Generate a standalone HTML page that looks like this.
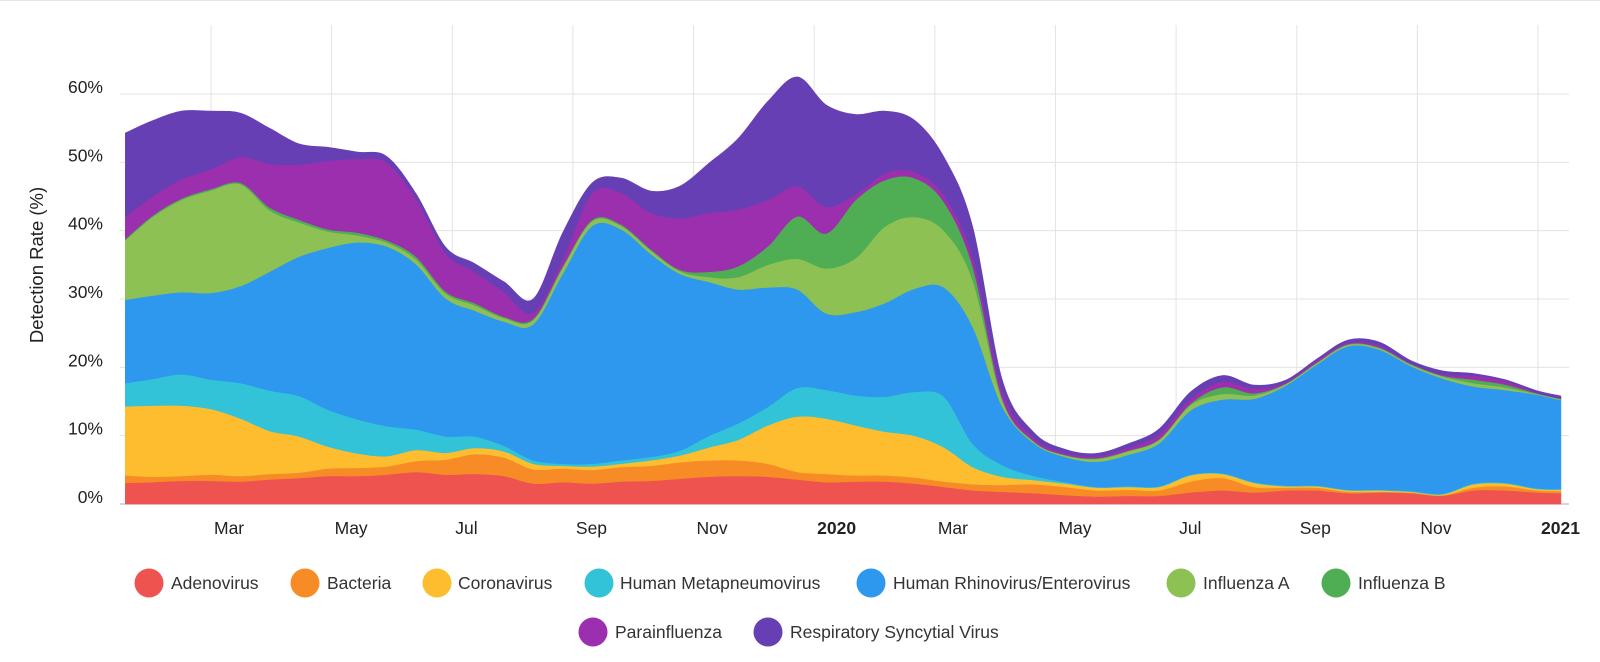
<!DOCTYPE html>
<html><head><meta charset="utf-8"><style>
body{margin:0;background:#fff;width:1600px;height:657px;overflow:hidden;font-family:"Liberation Sans",sans-serif}
svg text{font-family:"Liberation Sans",sans-serif}
</style></head><body>
<svg id="chart" width="1600" height="657" xmlns="http://www.w3.org/2000/svg">
<line x1="0" y1="0.5" x2="1600" y2="0.5" stroke="#e6e6e6"/>
<g id="grid"></g>
<g id="areas"></g>
<g id="axes"></g>
<text transform="translate(43,265) rotate(-90)" text-anchor="middle" font-size="18.5" fill="#222">Detection Rate (%)</text>
<g id="legend"></g>
</svg>
<script>
const seriesNames=["Adenovirus","Bacteria","Coronavirus","Human Metapneumovirus","Human Rhinovirus/Enterovirus","Influenza A","Influenza B","Parainfluenza","Respiratory Syncytial Virus"];
const seriesColors=["#ef5350","#f78c26","#fdbd2f","#33c3d8","#2d98ee","#8dc153","#4fae54","#9c2fad","#673fb4"];
// sample dates, in months since 1 Jan 2019
const sampleMonths=[0.58,1.03,1.51,2.00,2.49,2.97,3.46,3.94,4.43,4.91,5.40,5.89,6.37,6.86,7.34,7.83,8.32,8.80,9.29,9.77,10.26,10.74,11.23,11.72,12.20,12.69,13.17,13.66,14.15,14.63,15.12,15.64,16.16,16.68,17.20,17.72,18.24,18.77,19.29,19.81,20.33,20.85,21.37,21.89,22.41,22.93,23.45,23.98,24.38];
const adenovirus=[3.1,3.2,3.4,3.4,3.3,3.6,3.8,4.1,4.1,4.3,4.7,4.3,4.4,4.1,3.0,3.2,3.0,3.3,3.4,3.7,4.0,4.1,4.0,3.6,3.2,3.3,3.3,3.0,2.5,2.0,1.8,1.6,1.3,1.1,1.2,1.2,1.7,2.0,1.7,2.0,2.0,1.6,1.7,1.6,1.2,2.0,2.0,1.7,1.6];
const bacteria=[1.1,0.8,0.7,0.9,0.8,0.8,0.8,1.1,1.2,1.2,1.6,2.2,2.9,2.7,2.1,2.0,2.0,2.1,2.2,2.4,2.4,2.3,1.9,1.1,1.2,0.9,0.9,0.9,0.8,0.9,1.0,1.3,1.2,0.9,0.9,0.8,1.6,1.8,0.8,0.4,0.4,0.2,0.1,0.1,0.1,0.4,0.6,0.3,0.3];
const coronavirus=[10.1,10.4,10.3,9.6,8.4,6.3,5.3,3.2,2.1,1.5,1.6,1.0,0.9,0.9,0.8,0.4,0.5,0.5,0.8,1.0,1.9,3.0,5.6,8.1,8.1,7.3,6.4,6.1,5.0,2.5,1.2,0.6,0.5,0.4,0.4,0.5,0.9,0.6,0.6,0.2,0.2,0.2,0.2,0.1,0.1,0.5,0.4,0.2,0.2];
const metapneumovirus=[3.4,3.9,4.6,4.3,5.2,5.9,5.9,5.4,5.0,4.4,3.0,2.4,1.7,0.8,0.5,0.3,0.4,0.5,0.5,0.7,1.7,2.4,2.7,4.2,4.2,4.4,5.1,6.4,7.4,3.4,1.7,0.6,0.2,0.1,0.1,0.1,0.1,0.1,0.1,0.1,0.1,0.1,0.1,0.1,0.1,0.1,0.1,0.1,0.1];
const rhinovirus=[12.2,12.2,12.0,12.7,14.2,17.4,20.4,23.7,25.9,26.3,24.2,20.2,18.4,18.2,19.9,27.8,34.8,33.8,29.7,25.9,22.5,19.6,17.5,14.4,11.2,12.2,13.7,15.1,16.0,17.1,8.5,4.8,3.7,3.7,4.6,6.3,9.4,10.8,12.2,14.6,17.7,21.0,20.5,18.3,16.9,14.2,13.6,13.7,13.0];
const influenzaA=[8.7,11.5,13.5,15.0,14.9,9.0,5.0,2.4,1.0,0.6,0.7,0.7,0.8,0.5,0.6,0.9,0.7,0.5,0.5,0.4,0.7,1.8,3.3,4.5,6.6,7.9,11.2,10.5,8.3,6.8,0.9,0.2,0.2,0.4,0.5,0.5,0.8,0.8,0.5,0.2,0.2,0.2,0.2,0.2,0.3,0.5,0.4,0.1,0.1];
const influenzaB=[0.2,0.2,0.2,0.2,0.2,0.4,0.4,0.3,0.4,0.3,0.4,0.3,0.3,0.2,0.2,0.2,0.2,0.2,0.2,0.2,0.8,1.6,2.7,6.2,5.1,8.5,6.8,5.7,4.2,2.0,0.3,0.1,0.1,0.1,0.1,0.1,0.2,1.0,0.3,0.1,0.1,0.1,0.1,0.1,0.1,0.5,0.4,0.1,0.1];
const parainfluenza=[3.2,2.8,2.8,2.9,3.8,6.4,8.1,10.0,10.8,11.4,8.5,5.6,4.6,3.6,0.9,1.0,3.9,4.6,5.3,7.5,8.6,8.3,6.8,4.4,3.9,0.8,1.0,0.9,1.0,1.4,1.2,0.5,0.3,0.3,0.4,0.7,0.7,0.8,0.7,0.2,0.3,0.2,0.3,0.1,0.2,0.6,0.5,0.1,0.1];
const rsv=[12.3,11.1,10.0,8.5,6.4,5.2,3.0,2.0,1.0,0.9,0.7,0.9,1.2,1.5,2.0,3.9,1.5,2.2,3.2,4.7,7.3,10.4,14.4,16.0,14.9,11.7,9.1,7.6,5.6,4.4,1.5,0.8,0.5,0.4,0.6,0.8,1.0,0.9,0.5,0.3,0.2,0.4,0.5,0.4,0.5,0.3,0.2,0.3,0.3];
const yTickLabels=["0%","10%","20%","30%","40%","50%","60%"];
const yTickValues=[0,10,20,30,40,50,60];
const monthLabels=["Mar","May","Jul","Sep","Nov","2020","Mar","May","Jul","Sep","Nov","2021"];
const monthIndex=[2,4,6,8,10,12,14,16,18,20,22,24];
const boldLabels=["2020","2021"];
const allSeries=[adenovirus,bacteria,coronavirus,metapneumovirus,rhinovirus,influenzaA,influenzaB,parainfluenza,rsv];

const NS="http://www.w3.org/2000/svg";
const Y0=504,PX10=68.33;
const n=adenovirus.length;
function monthX(m){return 211+(m-2)*(1538-211)/22;}
function xScale(i){return monthX(sampleMonths[i]);}
function yScale(v){return Y0-v*PX10/10;}
function mk(tag,attrs,parent){const e=document.createElementNS(NS,tag);for(const k in attrs)e.setAttribute(k,attrs[k]);parent.appendChild(e);return e;}

const grid=document.getElementById('grid');
yTickValues.forEach((v,k)=>{
  const l=mk('line',{x1:120,x2:1569,y1:yScale(v),y2:yScale(v),stroke:k===0?'#c8c8c8':'#e3e3e3','stroke-width':k===0?1.5:1},grid);
  
  
});
monthIndex.forEach(m=>{
  const l=mk('line',{x1:monthX(m),x2:monthX(m),y1:25,y2:Y0,stroke:'#e3e3e3'},grid);
  
  
});

const cum=[];let base=new Array(n).fill(0);
allSeries.forEach(s=>{const top=base.map((b,i)=>b+s[i]);cum.push({lo:base,hi:top});base=top;});
function curve(pts,start){
  let d=start?`M${pts[0][0]},${pts[0][1]}`:`L${pts[0][0]},${pts[0][1]}`;
  for(let i=0;i<pts.length-1;i++){
    const p0=pts[Math.max(0,i-1)],p1=pts[i],p2=pts[i+1],p3=pts[Math.min(pts.length-1,i+2)];
    const c1x=p1[0]+(p2[0]-p0[0])/6,c1y=p1[1]+(p2[1]-p0[1])/6;
    const c2x=p2[0]-(p3[0]-p1[0])/6,c2y=p2[1]-(p3[1]-p1[1])/6;
    d+=`C${c1x.toFixed(1)},${c1y.toFixed(1)} ${c2x.toFixed(1)},${c2y.toFixed(1)} ${p2[0].toFixed(1)},${p2[1].toFixed(1)}`;
  }
  return d;
}
const areas=document.getElementById('areas');
cum.forEach((c,k)=>{
  const up=c.hi.map((v,i)=>[xScale(i),yScale(v)]);
  const dn=c.lo.map((v,i)=>[xScale(i),yScale(v)]).reverse();
  const d=curve(up,true)+curve(dn,false)+'Z';
  const p=mk('path',{d:d,fill:seriesColors[k],stroke:seriesColors[k],'stroke-width':0.6},areas);
  
  
});

const axes=document.getElementById('axes');
yTickValues.forEach((v,k)=>{
  const t=mk('text',{x:103,y:yScale(v)-1,'text-anchor':'end','font-size':17.5,fill:'#222'},axes);
  t.textContent=yTickLabels[k];
  
  
});
monthIndex.forEach((m,k)=>{
  const lab=monthLabels[k];
  const t=mk('text',{x:monthX(m)+3,y:534,'font-size':17.5,fill:'#222','font-weight':boldLabels.includes(lab)?'bold':'normal'},axes);
  t.textContent=lab;
  
  
});

const legendPos=[[149,583,171],[305,583,327],[437,583,458],[599,583,620],[871,583,893],[1181,583,1203],[1336,583,1358],[593,632,615],[768,632,790]];
const lg=document.getElementById('legend');
seriesNames.forEach((nm,k)=>{
  const g=mk('g',{},lg);
  
  
  const [cx,cy,tx]=legendPos[k];
  const c=mk('circle',{cx:cx,cy:cy,r:14.5,fill:seriesColors[k]},g);
  
  
  const t=mk('text',{x:tx,y:cy+6,'font-size':17.5,fill:'#333'},g);
  t.textContent=nm;
  
  
});
</script>
</body></html>
